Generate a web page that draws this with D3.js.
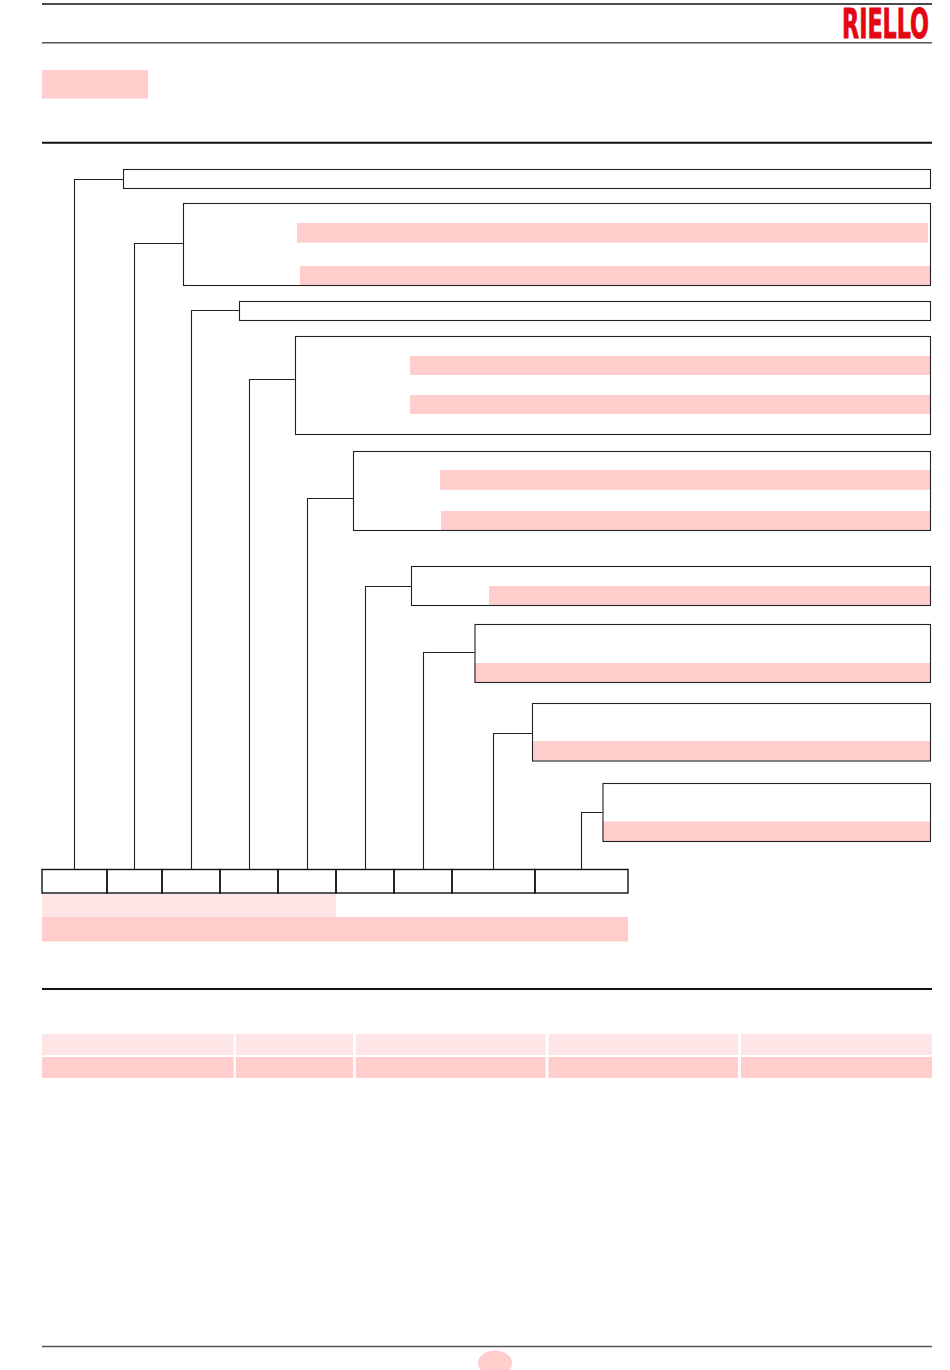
<!DOCTYPE html>
<html>
<head>
<meta charset="utf-8">
<script src="https://cdn.jsdelivr.net/npm/d3@7"></script>
<style>
  html, body { margin: 0; padding: 0; background: #fff; }
  svg { display: block; }
</style>
</head>
<body>
<script>
// ---------- data ----------
// designation code fields: boundaries (page units from left margin)
const fieldEdges = [0, 65, 120, 178, 236, 294, 352, 410, 493, 586];
// boxes for each code field (index matches field), left edge / top / bottom
const boxLeft   = [81, 141, 197, 253, 311, 369, 432.5, 490, 560.5];
const boxTop    = [169, 203, 301, 336, 451, 566, 624, 703, 783];
const boxBottom = [188, 285, 320, 434, 530, 605, 682, 760.5, 841];
const connectorY = [179, 243, 310, 379, 498, 586, 652, 733.5, 812];
// highlighted (pink) rows inside boxes: [boxIndex, left, top, bottom, right]
const pinkRows = [
  [1, 255, 223, 242.7, 886],
  [1, 258, 266, 285, 888],
  [3, 368, 356, 375, 888],
  [3, 368, 395, 414, 888],
  [4, 398, 470, 489.7, 888],
  [4, 399, 511, 530, 888],
  [5, 447, 586, 605, 888],
  [6, 432.5, 663, 682, 888],
  [7, 490, 741, 760.5, 888],
  [8, 560.5, 821.5, 841, 888]
];
// table below
const tableCols = [[0, 191.5], [194, 311], [314, 503.5], [506.5, 696], [699, 890]];
const tableRows = [[1034, 1055, "light"], [1057, 1078, "dark"]];
const logoText = "RIELLO";

// ---------- setup ----------
const W = 950, H = 1370;
const x = d3.scaleLinear().domain([0, 890]).range([42, 932]);
const y = d3.scaleLinear().domain([0, H]).range([0, H]);
const fill = { light: "#fee5e5", dark: "#ffcdcb" };
const ink = "#222";

const svg = d3.select("body").append("svg").attr("width", W).attr("height", H);

// ---------- header ----------
svg.append("line").attr("x1", x(0)).attr("x2", x(890)).attr("y1", y(4)).attr("y2", y(4))
  .attr("stroke", "#111").attr("stroke-width", 1.4);
svg.append("line").attr("x1", x(0)).attr("x2", x(890)).attr("y1", y(42.7)).attr("y2", y(42.7))
  .attr("stroke", "#555").attr("stroke-width", 1.4);
const logo = svg.append("text").text(logoText)
  .attr("x", 0).attr("y", 0)
  .attr("font-family", "DejaVu Sans Condensed, DejaVu Sans, sans-serif")
  .attr("font-weight", "bold").attr("font-size", 40)
  .attr("fill", "#e30613").attr("stroke", "#e30613").attr("stroke-width", 0.8);
const natural = logo.node().getComputedTextLength() || 130;
logo.attr("transform", `translate(842,${y(37.5)}) scale(${87 / natural},1)`);

svg.append("rect").attr("x", x(0)).attr("y", y(70)).attr("width", x(106) - x(0)).attr("height", y(98.5) - y(70))
  .attr("fill", fill.dark);

svg.append("line").attr("x1", x(0)).attr("x2", x(890)).attr("y1", y(142.8)).attr("y2", y(142.8))
  .attr("stroke", "#111").attr("stroke-width", 2);

// ---------- pink rows (behind box strokes) ----------
svg.append("g").selectAll("rect").data(pinkRows).join("rect")
  .attr("x", d => x(d[1])).attr("y", d => y(d[2]))
  .attr("width", d => x(d[4]) - x(d[1])).attr("height", d => y(d[3]) - y(d[2]))
  .attr("fill", fill.dark);

// ---------- boxes ----------
const boxes = boxLeft.map((l, i) => ({ l, t: boxTop[i], b: boxBottom[i], cy: connectorY[i], i }));
svg.append("g").selectAll("rect").data(boxes).join("rect")
  .attr("x", d => x(d.l) + 0.5).attr("y", d => y(d.t) + 0.5)
  .attr("width", d => x(888) - x(d.l)).attr("height", d => y(d.b) - y(d.t))
  .attr("fill", "none").attr("stroke", ink).attr("stroke-width", 1.1);

// ---------- connectors ----------
const rowTop = 869.5, rowBottom = 893;
const centers = fieldEdges.slice(0, -1).map((e, i) => (e + fieldEdges[i + 1]) / 2);
svg.append("g").selectAll("path").data(boxes).join("path")
  .attr("d", d => {
    const cx = Math.floor(x(centers[d.i])) + 0.5;
    const cy = Math.round(y(d.cy)) + 0.5;
    return `M${cx},${y(rowTop)} V${cy} H${x(d.l)}`;
  })
  .attr("fill", "none").attr("stroke", ink).attr("stroke-width", 1.1);

// ---------- code row ----------
svg.append("g").selectAll("rect").data(fieldEdges.slice(0, -1).map((e, i) => [e, fieldEdges[i + 1]])).join("rect")
  .attr("x", d => x(d[0])).attr("y", y(rowTop))
  .attr("width", d => x(d[1]) - x(d[0])).attr("height", y(rowBottom) - y(rowTop))
  .attr("fill", "none").attr("stroke", "#111").attr("stroke-width", 1.4);

svg.append("rect").attr("x", x(0)).attr("y", y(894)).attr("width", x(fieldEdges[5]) - x(0)).attr("height", y(917) - y(894))
  .attr("fill", fill.light);
svg.append("rect").attr("x", x(0)).attr("y", y(917)).attr("width", x(fieldEdges[9]) - x(0)).attr("height", y(941.5) - y(917))
  .attr("fill", fill.dark);

svg.append("line").attr("x1", x(0)).attr("x2", x(890)).attr("y1", y(989)).attr("y2", y(989))
  .attr("stroke", "#111").attr("stroke-width", 2);

// ---------- table ----------
const cells = [];
tableRows.forEach(r => tableCols.forEach(c => cells.push({ c, r })));
svg.append("g").selectAll("rect").data(cells).join("rect")
  .attr("x", d => x(d.c[0])).attr("y", d => y(d.r[0]))
  .attr("width", d => x(d.c[1]) - x(d.c[0])).attr("height", d => y(d.r[1]) - y(d.r[0]))
  .attr("fill", d => fill[d.r[2]]);

// ---------- footer ----------
svg.append("line").attr("x1", x(0)).attr("x2", x(890)).attr("y1", y(1346.5)).attr("y2", y(1346.5))
  .attr("stroke", "#555").attr("stroke-width", 1.4);
svg.append("ellipse").attr("cx", 495).attr("cy", y(1363)).attr("rx", 17).attr("ry", 12.5)
  .attr("fill", fill.dark);
</script>
</body>
</html>
